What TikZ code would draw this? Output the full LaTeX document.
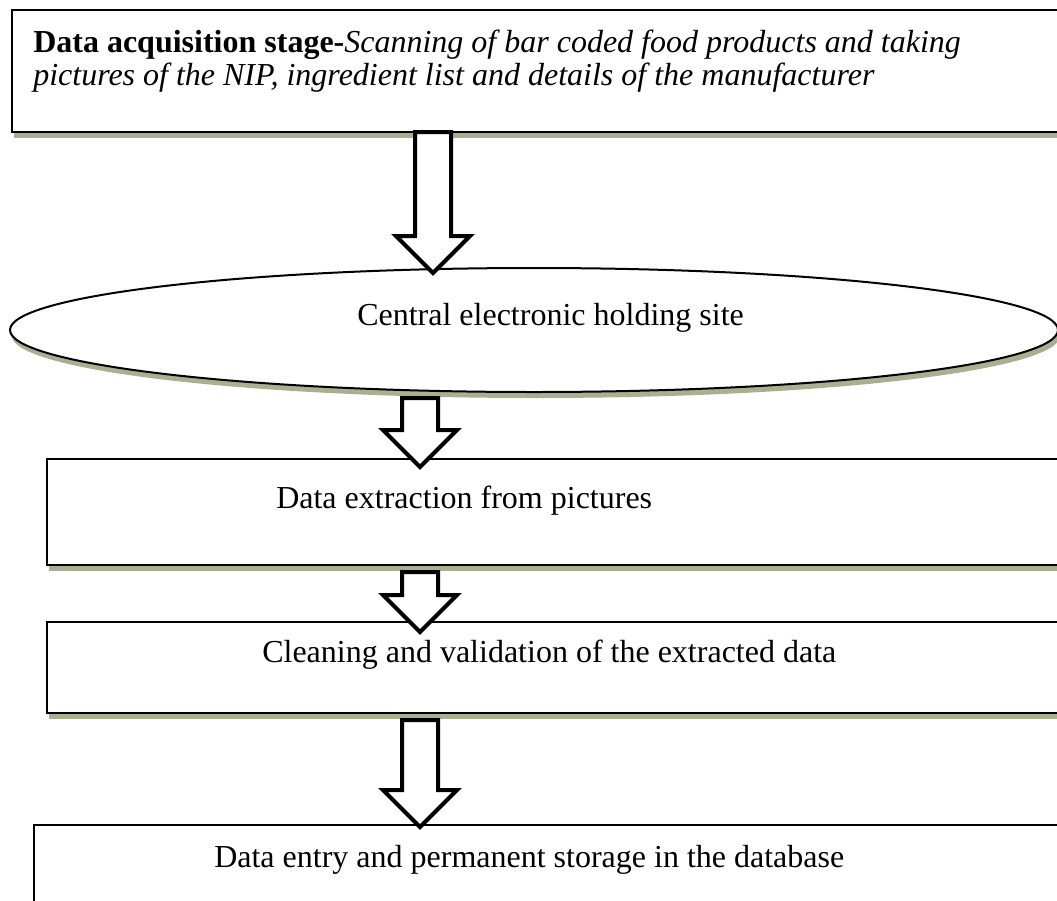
\documentclass[tikz,border=0pt]{standalone}
\usepackage{fontspec}
\setmainfont{Liberation Serif}
\usetikzlibrary{shapes.geometric,shapes.arrows,shadows,calc}
\definecolor{shadowolive}{RGB}{168,176,146}
\def\pxu{0.75pt}

\begin{document}
\begin{tikzpicture}[x=0.75pt,y=-0.75pt,
  font=\fontsize{24}{24.75}\selectfont,
  stagebox/.style={draw,line width=1.75pt,fill=white,inner sep=0pt,outer sep=0pt,
    general shadow={fill=shadowolive,shadow xshift=1.5pt,shadow yshift=-4.5pt}},
  hubshape/.style={stagebox,ellipse,line width=1.5pt},
  blockarrow/.style={single arrow,draw,line width=3pt,fill=white,rotate=-90,
    inner sep=12pt,single arrow head extend=14.25pt,outer sep=0pt},
  steptext/.style={anchor=base west,inner sep=0pt,align=left}]
  \useasboundingbox (0,0) rectangle (1057,900);
  \clip (0,0) rectangle (1057,900);

  % stages
  \node[stagebox,anchor=north west,minimum width=1060*\pxu,minimum height=122*\pxu] (acq) at (12,10) {};
  \node[hubshape,minimum width=1048*\pxu,minimum height=124*\pxu] (hub) at (534,330) {};
  \node[stagebox,anchor=north west,minimum width=1025*\pxu,minimum height=106*\pxu] (extract) at (47,459) {};
  \node[stagebox,anchor=north west,minimum width=1025*\pxu,minimum height=91*\pxu] (clean) at (47,622) {};
  \node[stagebox,anchor=north west,minimum width=1040*\pxu,minimum height=110*\pxu] (store) at (34,825) {};

  % texts (base of a two-line node is its last line)
  \node[steptext] (acqtxt) at (33,85) {\textbf{Data acquisition stage-}\textit{Scanning of bar coded food products and taking}\\
    \textit{pictures of the NIP, ingredient list and details of the manufacturer}};
  \node[steptext] (hubtxt) at (357,325) {Central electronic holding site};
  \node[steptext] (extracttxt) at (276,508) {Data extraction from pictures};
  \node[steptext] (cleantxt) at (262,662) {Cleaning and validation of the extracted data};
  \node[steptext] (storetxt) at (214,867) {Data entry and permanent storage in the database};

  % block arrows between stages
  \foreach \src/\dst/\ax/\gap/\dip in {acq/hub/433/0/5, hub/extract/420/6/8,
                                        extract/clean/420/7/10, clean/store/420/7/2} {
    \path let \p1 = (\ax,0 |- \src.south), \p2 = (\ax,0 |- \dst.north) in
      node[blockarrow,anchor=tail,minimum height={\y1-\y2+(\dip-\gap)*0.75pt}]
        (arr-\src) at (\x1,\y1-\gap*0.75pt) {};
  }
\end{tikzpicture}
\end{document}
